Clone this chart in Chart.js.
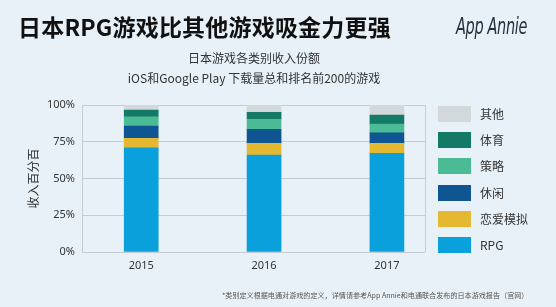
<!DOCTYPE html>
<html><head><meta charset="utf-8">
<script src="https://cdn.jsdelivr.net/npm/chart.js@4/dist/chart.umd.min.js"></script>
<style>
html,body{margin:0;padding:0;}
body{width:556px;height:307px;overflow:hidden;background:#e8f1f7;font-family:"Noto Sans CJK SC","Noto Sans",sans-serif;}
#wrap{position:relative;width:556px;height:307px;}
#wrap canvas{position:absolute;left:0;top:0;}
.t{position:absolute;white-space:nowrap;color:#333;}
#title{left:18px;top:15px;font-size:23px;line-height:23px;font-weight:bold;color:#111;letter-spacing:0.2px;}
#logo{left:456px;top:13px;font-family:"DejaVu Sans Condensed","DejaVu Sans",sans-serif;font-style:italic;font-size:23px;line-height:26px;color:#24303c;transform:scaleX(0.7);transform-origin:left top;letter-spacing:-0.5px;}
#sub1{left:0;width:508px;text-align:center;top:50px;font-size:12px;line-height:16px;}
#sub2{left:0;width:508px;text-align:center;top:70px;font-size:12px;line-height:16px;}
#foot{left:222px;top:290px;font-size:7.1px;line-height:10px;color:#555;}
#legend{position:absolute;left:438px;top:106px;}
.li{position:relative;height:26.2px;}
.sw{position:absolute;left:0;top:0;width:33px;height:16px;}
.lt{position:absolute;left:42px;top:0;font-size:12px;line-height:16px;color:#333;white-space:nowrap;}
</style></head>
<body>
<div id="wrap">
<canvas id="c" width="556" height="307"></canvas>
<div class="t" id="title">日本RPG游戏比其他游戏吸金力更强</div>
<div class="t" id="logo">App Annie</div>
<div class="t" id="sub1">日本游戏各类别收入份额</div>
<div class="t" id="sub2">iOS和Google Play 下载量总和排名前200的游戏</div>
<div class="t" id="foot">*类别定义根据电通对游戏的定义，详情请参考App Annie和电通联合发布的日本游戏报告（官网）</div>
<div id="legend"></div>
</div>
<script>
const years = [2015, 2016, 2017];
const seriesNames = ['RPG', '恋爱模拟', '休闲', '策略', '体育', '其他'];
const rpg      = [70.9, 65.9, 67.1];
const romance  = [6.4, 8.0, 6.8];
const casual   = [8.4, 9.5, 7.2];
const strategy = [6.3, 6.9, 6.0];
const sports   = [4.6, 4.7, 6.1];
const other    = [3.4, 5.0, 6.8];
const yTicks = [0, 25, 50, 75, 100];
const colors = ['#0aa0dc', '#e5b832', '#0f5591', '#4bbb95', '#147a66', '#d3d8da'];

const seriesValues = [rpg, romance, casual, strategy, sports, other];
const datasets = seriesValues.map((vals, k) => ({
  label: seriesNames[k],
  data: vals.map((v, i) => ({x: years[i], y: v})),
  backgroundColor: colors[k],
  borderWidth: 0,
  barThickness: 34
}));

const frame = {
  id: 'frame',
  afterDatasetsDraw(chart) {
    const a = chart.chartArea, ctx = chart.ctx;
    ctx.save();
    ctx.strokeStyle = '#c3ccd2';
    ctx.lineWidth = 1;
    ctx.beginPath();
    ctx.moveTo(Math.round(a.right) + 0.5, a.top);
    ctx.lineTo(Math.round(a.right) + 0.5, a.bottom);
    ctx.stroke();
    ctx.restore();
  }
};

new Chart(document.getElementById('c'), {
  type: 'bar',
  data: {datasets},
  plugins: [frame],
  options: {
    responsive: false,
    animation: false,
    layout: {padding: {left: 22, top: 105, right: 131, bottom: 0}},
    plugins: {legend: {display: false}, tooltip: {enabled: false}},
    scales: {
      x: {
        type: 'linear', stacked: true, offset: false,
        min: 2014.518, max: 2017.31,
        afterFit(s) { s.height = 55; },
        afterBuildTicks(s) { s.ticks = years.map(v => ({value: v})); },
        ticks: {
          padding: 7,
          color: '#333', font: {family: '"Noto Sans","Noto Sans CJK SC",sans-serif', size: 11},
          callback: v => String(v)
        },
        grid: {display: false, drawTicks: false},
        border: {display: false}
      },
      y: {
        stacked: true, min: 0, max: 100,
        afterFit(s) { s.width = 60; },
        afterBuildTicks(s) { s.ticks = yTicks.map(v => ({value: v})); },
        ticks: {
          padding: 7, color: '#333',
          font: {family: '"Noto Sans","Noto Sans CJK SC",sans-serif', size: 11},
          callback: v => v + '%'
        },
        grid: {color: '#c3ccd2', drawTicks: false, lineWidth: 1},
        border: {display: true, color: '#c3ccd2'},
        title: {display: true, text: '收入百分百', color: '#333',
          font: {family: '"Noto Sans CJK SC",sans-serif', size: 12}}
      }
    }
  }
});

const leg = document.getElementById('legend');
for (let k = seriesNames.length - 1; k >= 0; k--) {
  const li = document.createElement('div'); li.className = 'li';
  const sw = document.createElement('div'); sw.className = 'sw'; sw.style.background = colors[k];
  const lt = document.createElement('div'); lt.className = 'lt'; lt.textContent = seriesNames[k];
  li.appendChild(sw); li.appendChild(lt); leg.appendChild(li);
}
</script>
</body></html>
